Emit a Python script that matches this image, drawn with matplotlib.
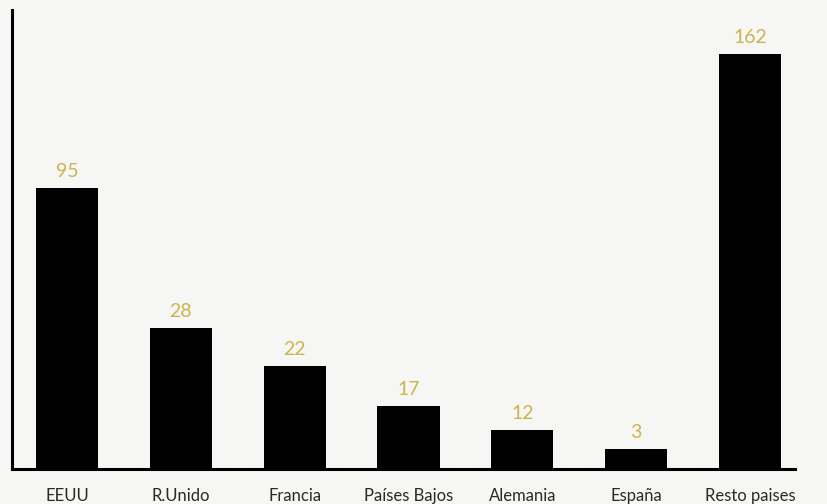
import matplotlib.pyplot as plt

# Data
paises = ['EEUU', 'R.Unido', 'Francia', 'Países Bajos', 'Alemania', 'España', 'Resto paises']
valores = [95, 28, 22, 17, 12, 3, 162]
# bar heights as drawn (the original chart is not to scale), in screen units
alturas = [281, 141, 103, 63, 39, 20, 415]

fig = plt.figure(figsize=(8.27, 5.04), dpi=100)
fig.patch.set_facecolor('#f6f6f4')
ax = fig.add_axes([12 / 827, 35 / 504, (795 - 12) / 827, (469 - 10) / 504])
ax.set_facecolor('#f6f6f4')

x = range(len(paises))
ax.bar(x, alturas, width=0.545, color='black', zorder=3)

for i, (h, v) in enumerate(zip(alturas, valores)):
    ax.text(i, h + 8, str(v), ha='center', va='bottom', fontsize=14,
            color='#cbb54e', family='Lato')

ax.set_xlim(-0.483, 6.395)
ax.set_ylim(0, 459)
ax.set_xticks(list(x))
ax.set_xticklabels(paises, fontsize=12, color='#2a2a2a', family='Lato')
ax.tick_params(axis='x', length=0, pad=14)
ax.set_yticks([])

for s in ['top', 'right']:
    ax.spines[s].set_visible(False)
ax.spines['left'].set_linewidth(2.2)
ax.spines['bottom'].set_linewidth(2.2)

fig.savefig('out.png', dpi=100, facecolor=fig.get_facecolor())
